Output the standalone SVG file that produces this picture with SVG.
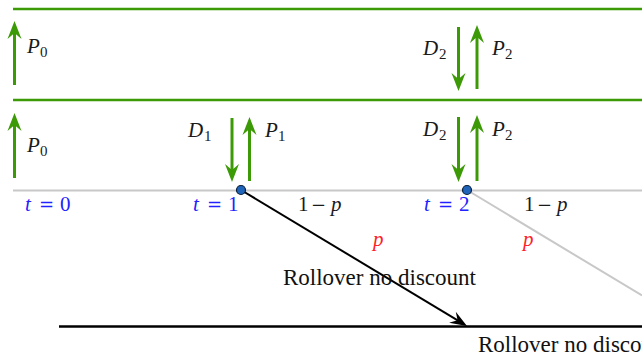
<svg xmlns="http://www.w3.org/2000/svg" width="642" height="355" viewBox="0 0 642 355">
<style>
.g{stroke:#3c9a06;stroke-width:3;fill:none}
.gl{stroke:#3c9a06;stroke-width:2.5}
.gray{stroke:#c8c8c8;stroke-width:2;fill:none}
.m{font-family:"Liberation Serif",serif;font-size:21px;fill:#1a1a1a}
.i{font-style:italic}
.s{font-size:15px}
.op{font-family:"DejaVu Serif",serif;font-size:18px}
.blue{fill:#2222ff}
.red{fill:#ff2222;font-family:"Liberation Serif",serif;font-size:21px;font-style:italic}
.txt{font-family:"Liberation Serif",serif;font-size:23px;fill:#111}
.dot{fill:#1f64b8;stroke:#0a1f3a;stroke-width:1.2}
</style>
<defs>
<marker id="ah" markerUnits="userSpaceOnUse" viewBox="-12 -8 22 16" refX="0" refY="0" markerWidth="22" markerHeight="16" orient="auto">
<path d="M8,0 L-10,-7 L-4,0 L-10,7 Z" fill="#3c9a06"/>
</marker>
<marker id="bh" markerUnits="userSpaceOnUse" viewBox="-12 -8 22 16" refX="0" refY="0" markerWidth="22" markerHeight="16" orient="auto">
<path d="M7,0 L-10,-6.5 L-4,0 L-10,6.5 Z" fill="#000"/>
</marker>
</defs>
<g id="rails">
<line class="gl" x1="13" y1="9" x2="642" y2="9"/>
<line class="gl" x1="13" y1="100" x2="642" y2="100"/>
<line class="gray" x1="13" y1="190.5" x2="642" y2="190.5"/>
</g>
<g id="connectors">
<path class="g" d="M14.5,85 V29" marker-end="url(#ah)"/>
<path class="g" d="M14.5,178 V121" marker-end="url(#ah)"/>
<path class="g" d="M232,118 V174" marker-end="url(#ah)"/>
<path class="g" d="M249.5,181 V125" marker-end="url(#ah)"/>
<path class="g" d="M458.5,27 V83" marker-end="url(#ah)"/>
<path class="g" d="M477,89 V33" marker-end="url(#ah)"/>
<path class="g" d="M458.5,117 V174" marker-end="url(#ah)"/>
<path class="g" d="M477,181 V123" marker-end="url(#ah)"/>
<line class="gray" x1="467" y1="190" x2="642" y2="295.5"/>
<path d="M241,190 L461,322.4" stroke="#000" stroke-width="2" fill="none" marker-end="url(#bh)"/>
<line x1="59" y1="326.5" x2="642" y2="326.5" stroke="#000" stroke-width="2.5"/>
</g>
<g id="node-t1"><circle class="dot" cx="241" cy="190" r="4.5"/></g>
<g id="node-t2"><circle class="dot" cx="467" cy="190" r="4.5"/></g>
<g id="labels">
<text class="m" x="27" y="53"><tspan class="i">P</tspan><tspan class="s" x="40" y="57">0</tspan></text>
<text class="m" x="27" y="152"><tspan class="i">P</tspan><tspan class="s" x="40" y="156">0</tspan></text>
<text class="m" x="188" y="137"><tspan class="i">D</tspan><tspan class="s" x="204" y="141">1</tspan></text>
<text class="m" x="265" y="137"><tspan class="i">P</tspan><tspan class="s" x="278" y="141">1</tspan></text>
<text class="m" x="423" y="55"><tspan class="i">D</tspan><tspan class="s" x="439" y="59">2</tspan></text>
<text class="m" x="492" y="55"><tspan class="i">P</tspan><tspan class="s" x="505" y="59">2</tspan></text>
<text class="m" x="423" y="136"><tspan class="i">D</tspan><tspan class="s" x="439" y="140">2</tspan></text>
<text class="m" x="492" y="136"><tspan class="i">P</tspan><tspan class="s" x="505" y="140">2</tspan></text>
<text class="m blue" x="25" y="211"><tspan class="i">t</tspan><tspan class="op" x="39">=</tspan><tspan x="60">0</tspan></text>
<text class="m blue" x="193" y="211"><tspan class="i">t</tspan><tspan class="op" x="207">=</tspan><tspan x="228">1</tspan></text>
<text class="m blue" x="424" y="211"><tspan class="i">t</tspan><tspan class="op" x="438">=</tspan><tspan x="459">2</tspan></text>
<text class="m" x="298" y="211"><tspan>1</tspan><tspan class="op" x="311">−</tspan><tspan class="i" x="331">p</tspan></text>
<text class="m" x="524" y="211"><tspan>1</tspan><tspan class="op" x="537">−</tspan><tspan class="i" x="557">p</tspan></text>
<text class="red" x="373" y="246">p</text>
<text class="red" x="523" y="246">p</text>
<text class="txt" x="283" y="285">Rollover no discount</text>
<text class="txt" x="478" y="352">Rollover no discount</text>
</g>
</svg>
